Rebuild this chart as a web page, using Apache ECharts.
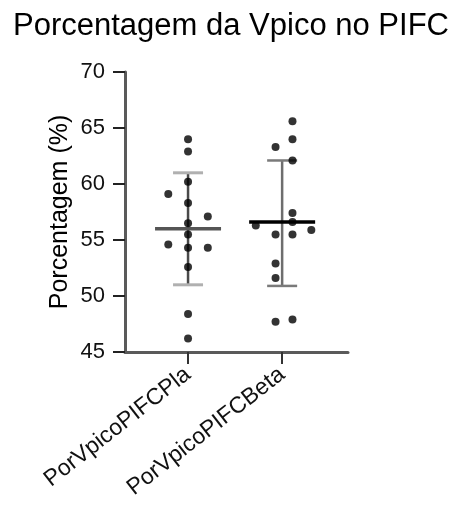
<!DOCTYPE html>
<html>
<head>
<meta charset="utf-8">
<script src="https://cdn.jsdelivr.net/npm/echarts@6/dist/echarts.min.js"></script>
<style>
  html, body { margin: 0; padding: 0; background: #fff; }
  #chart { width: 452px; height: 514px; }
</style>
</head>
<body>
<div id="chart"></div>
<script>
// groups and tick labels
const categories = ["PorVpicoPIFCPla", "PorVpicoPIFCBeta"];
const yTicks = [45, 50, 55, 60, 65, 70];

// individual values (%), with the horizontal jitter used in the plot
const plaValues = [64.0, 62.9, 60.2, 59.1, 58.3, 57.1, 56.5, 55.5, 54.6, 54.3, 54.3, 52.6, 48.4, 46.2];
const plaJitter = [0, 0, 0, -0.21, 0, 0.21, 0, 0, -0.21, 0, 0.21, 0, 0, 0];
const betaValues = [65.6, 64.0, 63.3, 62.1, 57.4, 56.6, 56.3, 55.5, 55.5, 55.9, 52.9, 51.6, 47.7, 47.9];
const betaJitter = [0.11, 0.11, -0.07, 0.11, 0.11, 0.11, -0.28, -0.07, 0.11, 0.31, -0.07, -0.07, -0.07, 0.11];

// mean and mean ± SD
const means = [56.0, 56.6];
const lower = [51.0, 50.9];
const upper = [61.0, 62.1];

const font = "'Liberation Sans', Arial, sans-serif";

const points = [];
plaValues.forEach((v, i) => points.push([1 + plaJitter[i], v]));
betaValues.forEach((v, i) => points.push([2 + betaJitter[i], v]));

const barStyles = [
  { stem: "#4a4a4a", stemW: 2.5, cap: "#b0b0b0", capW: 3, mean: "#555", meanW: 3.5 },
  { stem: "#6e6e6e", stemW: 2.5, cap: "#7a7a7a", capW: 2.5, mean: "#000", meanW: 3.5 }
];

let chart = echarts.init(document.getElementById("chart"));
let option = {
  animation: false,
  title: {
    text: "Porcentagem da Vpico no PIFC",
    left: 8,
    top: 6,
    textStyle: { fontFamily: font, fontSize: 31, fontWeight: "normal", color: "#000" }
  },
  grid: { left: 125, right: 104, top: 72, bottom: 162 },
  xAxis: {
    type: "value",
    min: 0.33,
    max: 2.7,
    interval: 1,
    splitLine: { show: false },
    axisLine: { onZero: false, lineStyle: { color: "#5a5a5a", width: 3 } },
    axisTick: {
      length: 12,
      lineStyle: { color: "#333", width: 2 },
      customValues: [1, 2]
    },
    axisLabel: {
      customValues: [1, 2],
      formatter: v => categories[Math.round(v) - 1] || "",
      rotate: 38,
      margin: 20,
      fontFamily: font,
      fontSize: 23,
      color: "#111"
    }
  },
  yAxis: {
    type: "value",
    min: yTicks[0],
    max: yTicks[yTicks.length - 1],
    interval: 5,
    name: "Porcentagem (%)",
    nameLocation: "middle",
    nameGap: 52,
    nameTextStyle: { fontFamily: font, fontSize: 25, color: "#000" },
    splitLine: { show: false },
    axisLine: { show: true, lineStyle: { color: "#5a5a5a", width: 3 } },
    axisTick: { show: true, length: 12, lineStyle: { color: "#222", width: 2 } },
    axisLabel: { fontFamily: font, fontSize: 22, color: "#111", margin: 20 }
  },
  series: [
    {
      type: "custom",
      z: 1,
      data: means.map((m, i) => [i + 1, m, lower[i], upper[i]]),
      renderItem: (params, api) => {
        const i = params.dataIndex;
        const s = barStyles[i];
        const x = api.value(0);
        const mid = api.coord([x, api.value(1)]);
        const lo = api.coord([x, api.value(2)]);
        const hi = api.coord([x, api.value(3)]);
        const capHalf = 15;
        const meanHalf = 33;
        return {
          type: "group",
          children: [
            { type: "line", shape: { x1: lo[0], y1: lo[1], x2: hi[0], y2: hi[1] }, style: { stroke: s.stem, lineWidth: s.stemW } },
            { type: "line", shape: { x1: lo[0] - capHalf, y1: lo[1], x2: lo[0] + capHalf, y2: lo[1] }, style: { stroke: s.cap, lineWidth: s.capW } },
            { type: "line", shape: { x1: hi[0] - capHalf, y1: hi[1], x2: hi[0] + capHalf, y2: hi[1] }, style: { stroke: s.cap, lineWidth: s.capW } },
            { type: "line", z2: 20, shape: { x1: mid[0] - meanHalf, y1: mid[1], x2: mid[0] + meanHalf, y2: mid[1] }, style: { stroke: s.mean, lineWidth: s.meanW } }
          ]
        };
      }
    },
    {
      type: "scatter",
      z: 2,
      symbol: "circle",
      symbolSize: 8,
      itemStyle: { color: "#000" },
      data: points
    }
  ]
};
option && chart.setOption(option);
</script>
</body>
</html>
